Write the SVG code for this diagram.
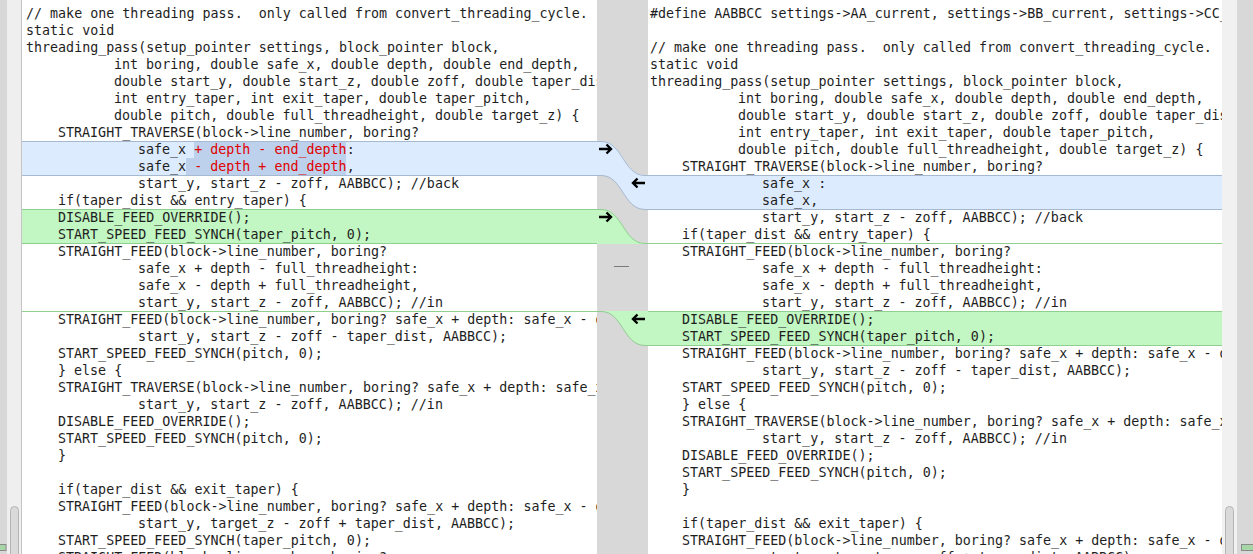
<svg xmlns="http://www.w3.org/2000/svg" width="1253" height="554" viewBox="0 0 1253 554">
<defs>
<style>
.code{font-family:"DejaVu Sans Mono","Liberation Mono",monospace;font-size:13.33px;fill:#1e1e1e;white-space:pre}
.del{fill:#e00000}
.chg{fill:#dcebfd}
.chgb{stroke:#a6b9d2;stroke-width:1;fill:none}
.ins{fill:#c2f6c2}
.insb{stroke:#8fcf8f;stroke-width:1;fill:none}
.arrow{stroke:#000;stroke-width:2.4;fill:none;stroke-linecap:butt;stroke-linejoin:miter}
</style>
<clipPath id="clipL"><rect x="22" y="0" width="575" height="554"/></clipPath>
<clipPath id="clipR"><rect x="648" y="0" width="574" height="554"/></clipPath>
</defs>

<g id="frame">
<rect x="0" y="0" width="1253" height="554" fill="#d8d8d8"/>
<rect x="7" y="0" width="15" height="554" fill="#efefef"/>
<line x1="21.5" y1="0" x2="21.5" y2="554" stroke="#c4c4c4"/>
<rect x="22" y="0" width="575" height="554" fill="#ffffff"/>
<rect x="648" y="0" width="574" height="554" fill="#ffffff"/>
<rect x="1222" y="0" width="15" height="554" fill="#f1f1f1"/>
<rect x="10.5" y="506.5" width="8" height="56" rx="4" fill="#dadada" stroke="#b5b5b5"/>
<rect x="1225.5" y="506.5" width="8" height="56" rx="4" fill="#dadada" stroke="#b5b5b5"/>
<rect x="-1" y="544.5" width="7" height="6" fill="#a6d6a6" stroke="#8a8a8a"/>
<rect x="1241.5" y="544.5" width="13" height="6" fill="#a6d6a6" stroke="#8a8a8a"/>
</g>

<g id="left-pane" clip-path="url(#clipL)">
<rect x="22" y="141" width="575" height="34" class="chg"/>
<rect x="194" y="141" width="152" height="17" fill="#bdd1ec"/>
<rect x="186" y="158" width="160" height="17" fill="#bdd1ec"/>
<rect x="22" y="209" width="575" height="34" class="ins"/>
<line x1="22" y1="141.5" x2="597" y2="141.5" class="chgb"/>
<line x1="22" y1="175.5" x2="597" y2="175.5" class="chgb"/>
<line x1="22" y1="209.5" x2="597" y2="209.5" class="insb"/>
<line x1="22" y1="243.5" x2="597" y2="243.5" class="insb"/>
<line x1="22" y1="311.5" x2="597" y2="311.5" class="insb"/>
<text class="code" x="26" y="17.8">// make one threading pass.  only called from convert_threading_cycle.</text>
<text class="code" x="26" y="34.8">static void</text>
<text class="code" x="26" y="51.8">threading_pass(setup_pointer settings, block_pointer block,</text>
<text class="code" x="114" y="68.8">int boring, double safe_x, double depth, double end_depth,</text>
<text class="code" x="114" y="85.8">double start_y, double start_z, double zoff, double taper_dist</text>
<text class="code" x="114" y="102.8">int entry_taper, int exit_taper, double taper_pitch,</text>
<text class="code" x="114" y="119.8">double pitch, double full_threadheight, double target_z) {</text>
<text class="code" x="58" y="136.8">STRAIGHT_TRAVERSE(block-&gt;line_number, boring?</text>
<text class="code" x="138" y="153.8">safe_x <tspan class="del">+ depth - end_depth</tspan>:</text>
<text class="code" x="138" y="170.8">safe_x<tspan class="del"> - depth + end_depth</tspan>,</text>
<text class="code" x="138" y="187.8">start_y, start_z - zoff, AABBCC); //back</text>
<text class="code" x="58" y="204.8">if(taper_dist &amp;&amp; entry_taper) {</text>
<text class="code" x="58" y="221.8">DISABLE_FEED_OVERRIDE();</text>
<text class="code" x="58" y="238.8">START_SPEED_FEED_SYNCH(taper_pitch, 0);</text>
<text class="code" x="58" y="255.8">STRAIGHT_FEED(block-&gt;line_number, boring?</text>
<text class="code" x="138" y="272.8">safe_x + depth - full_threadheight:</text>
<text class="code" x="138" y="289.8">safe_x - depth + full_threadheight,</text>
<text class="code" x="138" y="306.8">start_y, start_z - zoff, AABBCC); //in</text>
<text class="code" x="58" y="323.8">STRAIGHT_FEED(block-&gt;line_number, boring? safe_x + depth: safe_x - d</text>
<text class="code" x="138" y="340.8">start_y, start_z - zoff - taper_dist, AABBCC);</text>
<text class="code" x="58" y="357.8">START_SPEED_FEED_SYNCH(pitch, 0);</text>
<text class="code" x="58" y="374.8">} else {</text>
<text class="code" x="58" y="391.8">STRAIGHT_TRAVERSE(block-&gt;line_number, boring? safe_x + depth: safe_x</text>
<text class="code" x="138" y="408.8">start_y, start_z - zoff, AABBCC); //in</text>
<text class="code" x="58" y="425.8">DISABLE_FEED_OVERRIDE();</text>
<text class="code" x="58" y="442.8">START_SPEED_FEED_SYNCH(pitch, 0);</text>
<text class="code" x="58" y="459.8">}</text>
<text class="code" x="58" y="493.8">if(taper_dist &amp;&amp; exit_taper) {</text>
<text class="code" x="58" y="510.8">STRAIGHT_FEED(block-&gt;line_number, boring? safe_x + depth: safe_x - d</text>
<text class="code" x="138" y="527.8">start_y, target_z - zoff + taper_dist, AABBCC);</text>
<text class="code" x="58" y="544.8">START_SPEED_FEED_SYNCH(taper_pitch, 0);</text>
<text class="code" x="58" y="561.8">STRAIGHT_FEED(block-&gt;line_number, boring?</text>
</g>

<g id="right-pane" clip-path="url(#clipR)">
<rect x="648" y="175" width="574" height="34" class="chg"/>
<rect x="648" y="311" width="574" height="34" class="ins"/>
<line x1="648" y1="175.5" x2="1222" y2="175.5" class="chgb"/>
<line x1="648" y1="209.5" x2="1222" y2="209.5" class="chgb"/>
<line x1="648" y1="243.5" x2="1222" y2="243.5" class="insb"/>
<line x1="648" y1="311.5" x2="1222" y2="311.5" class="insb"/>
<line x1="648" y1="345.5" x2="1222" y2="345.5" class="insb"/>
<text class="code" x="650" y="17.8">#define AABBCC settings-&gt;AA_current, settings-&gt;BB_current, settings-&gt;CC_</text>
<text class="code" x="650" y="51.8">// make one threading pass.  only called from convert_threading_cycle.</text>
<text class="code" x="650" y="68.8">static void</text>
<text class="code" x="650" y="85.8">threading_pass(setup_pointer settings, block_pointer block,</text>
<text class="code" x="738" y="102.8">int boring, double safe_x, double depth, double end_depth,</text>
<text class="code" x="738" y="119.8">double start_y, double start_z, double zoff, double taper_dist</text>
<text class="code" x="738" y="136.8">int entry_taper, int exit_taper, double taper_pitch,</text>
<text class="code" x="738" y="153.8">double pitch, double full_threadheight, double target_z) {</text>
<text class="code" x="682" y="170.8">STRAIGHT_TRAVERSE(block-&gt;line_number, boring?</text>
<text class="code" x="762" y="187.8">safe_x :</text>
<text class="code" x="762" y="204.8">safe_x,</text>
<text class="code" x="762" y="221.8">start_y, start_z - zoff, AABBCC); //back</text>
<text class="code" x="682" y="238.8">if(taper_dist &amp;&amp; entry_taper) {</text>
<text class="code" x="682" y="255.8">STRAIGHT_FEED(block-&gt;line_number, boring?</text>
<text class="code" x="762" y="272.8">safe_x + depth - full_threadheight:</text>
<text class="code" x="762" y="289.8">safe_x - depth + full_threadheight,</text>
<text class="code" x="762" y="306.8">start_y, start_z - zoff, AABBCC); //in</text>
<text class="code" x="682" y="323.8">DISABLE_FEED_OVERRIDE();</text>
<text class="code" x="682" y="340.8">START_SPEED_FEED_SYNCH(taper_pitch, 0);</text>
<text class="code" x="682" y="357.8">STRAIGHT_FEED(block-&gt;line_number, boring? safe_x + depth: safe_x - d</text>
<text class="code" x="762" y="374.8">start_y, start_z - zoff - taper_dist, AABBCC);</text>
<text class="code" x="682" y="391.8">START_SPEED_FEED_SYNCH(pitch, 0);</text>
<text class="code" x="682" y="408.8">} else {</text>
<text class="code" x="682" y="425.8">STRAIGHT_TRAVERSE(block-&gt;line_number, boring? safe_x + depth: safe_x</text>
<text class="code" x="762" y="442.8">start_y, start_z - zoff, AABBCC); //in</text>
<text class="code" x="682" y="459.8">DISABLE_FEED_OVERRIDE();</text>
<text class="code" x="682" y="476.8">START_SPEED_FEED_SYNCH(pitch, 0);</text>
<text class="code" x="682" y="493.8">}</text>
<text class="code" x="682" y="527.8">if(taper_dist &amp;&amp; exit_taper) {</text>
<text class="code" x="682" y="544.8">STRAIGHT_FEED(block-&gt;line_number, boring? safe_x + depth: safe_x - d</text>
<text class="code" x="762" y="561.8">start_y, target_z - zoff + taper_dist, AABBCC);</text>
</g>

<g id="connectors">
<path d="M597,141 L601,141 C623,141 623,175 645,175 L648,175 L648,209 L645,209 C623,209 623,175 601,175 L597,175 Z" class="chg"/>
<path d="M597,141.5 L601,141.5 C623,141.5 623,175.5 645,175.5 L648,175.5" class="chgb"/>
<path d="M597,175.5 L601,175.5 C623,175.5 623,209.5 645,209.5 L648,209.5" class="chgb"/>
<path d="M597,209 L601,209 C623,209 623,243 645,243 L648,243 L648,244 L597,244 Z" class="ins"/>
<path d="M597,209.5 L601,209.5 C623,209.5 623,243.5 645,243.5 L648,243.5" class="insb"/>
<path d="M597,311 L648,311 L648,345 L645,345 C623,345 623,311 601,311 Z" class="ins"/>
<path d="M597,311.5 L601,311.5 C623,311.5 623,345.5 645,345.5 L648,345.5" class="insb"/>
<line x1="614" y1="266.5" x2="629" y2="266.5" stroke="#7a7a7a" stroke-width="1"/>
<g id="arrow-right-1"><path d="M599,149 L611,149 M606.5,144.5 L611,149 L606.5,153.5" class="arrow"/></g>
<g id="arrow-left-1"><path d="M645,183 L633,183 M637.5,178.5 L633,183 L637.5,187.5" class="arrow"/></g>
<g id="arrow-right-2"><path d="M599,217 L611,217 M606.5,212.5 L611,217 L606.5,221.5" class="arrow"/></g>
<g id="arrow-left-2"><path d="M645,319 L633,319 M637.5,314.5 L633,319 L637.5,323.5" class="arrow"/></g>
</g>
</svg>
